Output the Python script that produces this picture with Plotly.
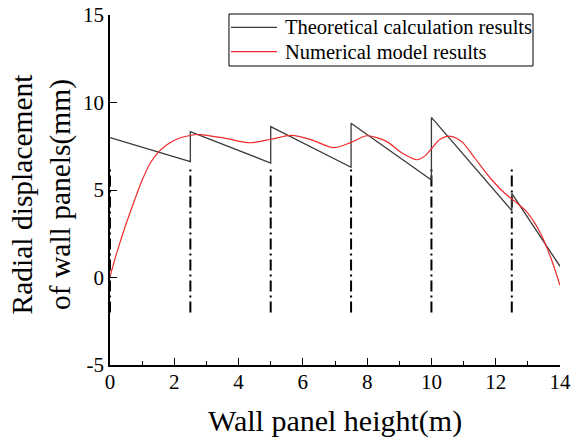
import plotly.graph_objects as go

# Theoretical results: linear segments per 2.5 m panel, with jumps at joints
theory_x = [0, 2.5, 2.5, 5, 5, 7.5, 7.5, 10, 10, 12.5, 12.5, 14]
theory_y = [8.0, 6.62, 8.33, 6.54, 8.62, 6.3, 8.81, 5.57, 9.15, 3.82, 4.81, 0.64]

# Numerical model results
model_x = [0, 0.2, 0.47, 0.73, 0.98, 1.24, 1.5, 1.76, 2.07, 2.45, 2.8, 3.6,
           4.36, 5.0, 5.65, 6.25, 6.95, 7.5, 8.0, 8.6, 9.1, 9.55, 9.8, 10.0,
           10.27, 10.6, 10.95, 11.36, 11.87, 12.29, 12.6, 12.91, 13.2, 13.4,
           13.7, 14.0]
model_y = [0.05, 1.35, 2.9, 4.24, 5.47, 6.5, 7.15, 7.57, 7.9, 8.1, 8.17, 7.95,
           7.7, 7.9, 8.12, 7.88, 7.42, 7.72, 8.1, 7.78, 7.1, 6.73, 6.95, 7.36,
           7.9, 8.07, 7.75, 6.8, 5.6, 4.8, 4.35, 3.86, 3.15, 2.5,
           1.2, -0.45]

# Panel joints (dash-dot markers)
joint_x = [0, 2.5, 5, 7.5, 10, 12.5]
joint_low, joint_high = -2.0, 6.2

y_ticks = [-5, 0, 5, 10, 15]
y_tick_text = ["-5", "0", "5", "10", "15"]

series_names = ["Theoretical calculation results", "Numerical model results"]
series_colors = ["#3a3a3a", "#ee2a2a"]

FONT = "Liberation Serif, Times New Roman, serif"

jx, jy = [], []
for x in joint_x:
    jx += [x, x, None]
    jy += [joint_low, joint_high, None]

fig = go.Figure()
fig.add_trace(go.Scatter(
    x=jx, y=jy, mode="lines", showlegend=False, hoverinfo="skip",
    line=dict(color="black", width=2, dash="11px,4px,2px,4px"),
))
fig.add_trace(go.Scatter(
    x=theory_x, y=theory_y, mode="lines", name=series_names[0],
    showlegend=False, line=dict(color=series_colors[0], width=1.3),
))
fig.add_trace(go.Scatter(
    x=model_x, y=model_y, mode="lines", line_shape="spline",
    name=series_names[1], showlegend=False,
    line=dict(color=series_colors[1], width=1.2, smoothing=0.8),
))

axis_common = dict(
    showline=True, linecolor="black", linewidth=1.5, mirror=False,
    showgrid=False, zeroline=False, automargin=False,
    ticks="inside", ticklen=7, tickwidth=1.2, tickcolor="black",
    tickfont=dict(family=FONT, size=21, color="black"),
)

fig.update_xaxes(range=[0, 14], tick0=0, dtick=2, ticklabelstandoff=-3,
                 minor=dict(ticks="inside", ticklen=4, tickwidth=1.2,
                            tickcolor="black", dtick=1, showgrid=False),
                 **axis_common)
fig.update_yaxes(range=[-5, 15], tickvals=y_ticks, ticktext=y_tick_text,
                 **axis_common)

fig.add_annotation(
    text="Wall panel height(m)", xref="paper", yref="paper",
    x=0.5, y=-0.16, xanchor="center", yanchor="middle", showarrow=False,
    font=dict(family=FONT, size=30, color="black"),
)
fig.add_annotation(
    text="Radial displacement<br>of wall panels(mm)", xref="paper", yref="paper",
    x=-0.152, y=0.489, xanchor="center", yanchor="middle", showarrow=False,
    textangle=-90, font=dict(family=FONT, size=29.5, color="black"),
)

# Legend box drawn in paper coordinates
fig.add_shape(type="rect", xref="paper", yref="paper",
              x0=0.2644, x1=0.94, y0=0.8543, y1=1.0029,
              line=dict(color="black", width=1), fillcolor="white", layer="above")
legend_rows_y = [0.9649, 0.8951]
for name, color, ly in zip(series_names, series_colors, legend_rows_y):
    fig.add_shape(type="line", xref="paper", yref="paper",
                  x0=0.2689, x1=0.3711, y0=ly, y1=ly,
                  line=dict(color=color, width=1.3), layer="above")
    fig.add_annotation(
        text=name, xref="paper", yref="paper", x=0.3844, y=ly,
        xanchor="left", yanchor="middle", showarrow=False,
        font=dict(family=FONT, size=20.5, color="black"),
    )

fig.update_layout(
    width=572, height=440,
    margin=dict(l=110, r=12, t=15, b=75),
    plot_bgcolor="white", paper_bgcolor="white",
    showlegend=False,
)

fig.write_html("out.html")
